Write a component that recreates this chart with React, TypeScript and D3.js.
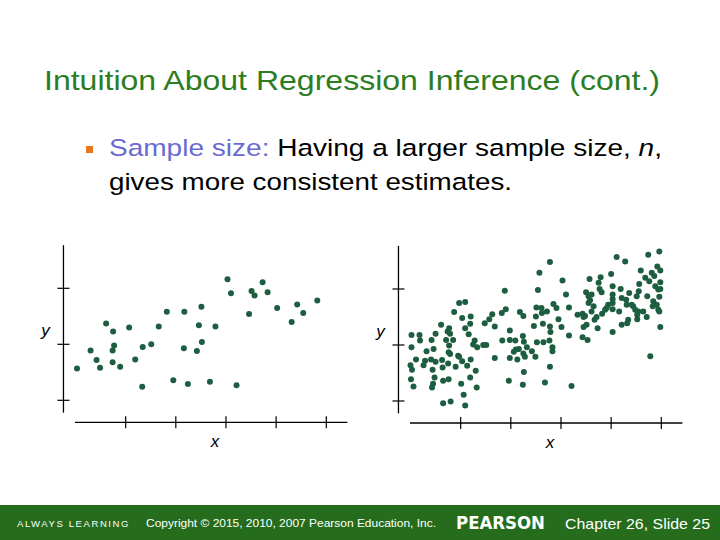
import * as d3 from "d3";

// points, in axis units (x ticks at 1..5, y ticks at 0..2)
const smallSample: [number, number][] = [
  [0.03, 0.57], [0.3, 0.89], [0.42, 0.72], [0.49, 0.58], [0.61, 1.37],
  [0.75, 1.23], [0.77, 0.98], [0.74, 0.89], [0.74, 0.68], [0.89, 0.6],
  [1.07, 1.3], [1.19, 0.73], [1.34, 0.95], [1.33, 0.24], [1.51, 1.0],
  [1.66, 1.32], [1.82, 1.58], [1.95, 0.36], [2.17, 1.58], [2.16, 0.93],
  [2.24, 0.29], [2.42, 0.88], [2.46, 1.34], [2.52, 1.04], [2.51, 1.67],
  [2.68, 0.33], [2.79, 1.32], [3.03, 2.16], [3.1, 1.91], [3.21, 0.27],
  [3.46, 1.54], [3.51, 1.95], [3.57, 1.87], [3.73, 2.11], [3.83, 1.93],
  [4.02, 1.65], [4.31, 1.4], [4.42, 1.71], [4.54, 1.56], [4.82, 1.78],
];

const largeSample: [number, number][] = [
  [0.02, 1.18], [0.18, 1.18], [0.19, 1.08], [0.02, 0.96], [0.11, 0.74],
  [0.0, 0.64], [0.03, 0.56], [0.01, 0.39], [0.06, 0.26], [0.26, 0.64],
  [0.29, 0.72], [0.32, 0.89], [0.42, 1.09], [0.41, 0.74], [0.44, 0.56],
  [0.48, 0.42], [0.45, 0.31], [0.43, 0.24], [0.46, 0.93], [0.5, 1.2],
  [0.5, 0.7], [0.61, 1.36], [0.63, 0.73], [0.64, 0.6], [0.65, 0.36],
  [0.65, -0.04], [0.71, 1.09], [0.74, 1.24], [0.77, 1.3], [0.76, 0.39],
  [0.79, 1.2], [0.75, 0.67], [0.8, -0.01], [0.77, 0.99], [0.76, 0.87],
  [0.79, 0.84], [0.85, 1.09], [0.87, 1.59], [0.9, 0.61], [0.95, 0.81],
  [0.97, 0.79], [0.97, 1.75], [1.03, 1.48], [1.03, 0.71], [1.01, 0.31],
  [1.09, 1.77], [1.09, 1.3], [1.06, 0.11], [1.09, -0.08], [1.13, 0.63],
  [1.16, 1.19], [1.19, 1.38], [1.2, 1.51], [1.2, 0.74], [1.19, 0.42],
  [1.25, 1.01], [1.28, 1.08], [1.3, 0.54], [1.32, 0.24], [1.33, 0.96],
  [1.45, 1.0], [1.48, 1.39], [1.51, 1.0], [1.57, 1.46], [1.63, 1.55],
  [1.68, 1.33], [1.68, 0.77], [1.82, 1.57], [1.83, 1.08], [1.88, 1.97],
  [1.9, 1.64], [1.96, 0.36], [1.98, 1.26], [1.98, 1.09], [1.98, 0.77],
  [2.06, 0.88], [2.09, 1.08], [2.1, 0.92], [2.13, 0.74], [2.16, 0.93],
  [2.18, 1.59], [2.24, 1.16], [2.25, 1.52], [2.26, 1.06], [2.25, 0.85],
  [2.28, 0.79], [2.26, 0.52], [2.24, 0.29], [2.32, 0.96], [2.42, 0.89],
  [2.46, 1.34], [2.49, 0.79], [2.51, 1.67], [2.54, 1.98], [2.52, 1.05],
  [2.5, 1.51], [2.57, 2.29], [2.61, 1.66], [2.62, 1.57], [2.64, 1.38],
  [2.65, 1.05], [2.68, 0.33],
  [2.78, 2.48], [2.72, 1.6], [2.85, 1.73], [2.91, 1.66], [2.78, 1.33],
  [2.79, 1.23], [2.77, 1.08], [2.83, 0.96], [2.83, 0.89], [2.78, 0.61],
  [2.95, 1.46], [3.01, 1.32], [3.03, 2.15], [3.1, 1.9], [3.16, 1.67],
  [3.16, 1.17], [3.21, 0.27], [3.33, 1.54], [3.43, 1.56], [3.45, 1.5],
  [3.48, 1.52], [3.45, 1.32], [3.51, 1.36], [3.43, 1.14], [3.53, 1.09],
  [3.5, 1.94], [3.55, 1.87], [3.58, 1.8], [3.55, 1.75], [3.61, 1.9],
  [3.57, 2.18], [3.65, 1.69], [3.61, 1.6], [3.67, 1.45], [3.71, 1.5],
  [3.73, 1.3], [3.75, 2.11], [3.77, 2.0], [3.79, 2.21], [3.81, 1.94],
  [3.82, 1.56], [3.88, 1.63], [3.91, 1.66], [3.94, 1.72], [4.0, 2.27],
  [4.03, 2.05], [4.03, 1.9], [4.03, 1.82], [4.03, 1.75], [4.03, 1.64],
  [4.03, 1.23], [4.11, 2.57], [4.16, 1.6], [4.19, 2.0], [4.21, 1.84],
  [4.21, 1.36], [4.28, 2.49], [4.3, 1.81], [4.31, 1.72], [4.32, 1.39],
  [4.34, 1.45], [4.36, 1.93], [4.41, 1.72], [4.44, 1.69], [4.48, 1.63],
  [4.52, 1.46], [4.52, 1.54], [4.54, 1.6], [4.51, 1.87], [4.55, 1.96],
  [4.56, 2.09], [4.59, 2.33], [4.64, 1.6], [4.68, 2.2], [4.71, 1.5],
  [4.72, 1.87], [4.74, 2.61], [4.76, 2.14], [4.78, 0.8], [4.81, 2.29],
  [4.83, 1.69], [4.84, 1.78], [4.86, 2.23], [4.88, 2.05], [4.91, 1.72],
  [4.92, 2.4], [4.94, 1.99], [4.94, 1.63], [4.96, 2.67], [4.96, 1.86],
  [4.98, 2.33], [4.98, 2.12], [4.98, 1.32], [4.98, 2.0], [4.96, 1.6],
];

const xTicks = [1, 2, 3, 4, 5];
const yTicks = [0, 1, 2];

const DOT = "#1e5e40";
const GREEN = "#2b7d1f";
const FONT = "'Liberation Sans', Arial, sans-serif";

type PanelProps = {
  points: [number, number][];
  left: number; // pixel position of x = 0
  axisY: number; // y pixel of the x axis
};

const Panel = ({ points, left, axisY }: PanelProps) => {
  const x = d3.scaleLinear().domain([0, 5]).range([left, left + 250.8]);
  const y = d3.scaleLinear().domain([0, 2]).range([axisY - 22, axisY - 134]);
  const yAxisX = x(-0.24);

  return (
    <g>
      {/* vertical axis */}
      <line x1={yAxisX} x2={yAxisX} y1={y(2.77)} y2={y(-0.22)} stroke="#000" strokeWidth={1.3} />
      {yTicks.map((t) => (
        <line key={t} x1={yAxisX - 6} x2={yAxisX + 6} y1={y(t)} y2={y(t)} stroke="#000" strokeWidth={1.2} />
      ))}
      {/* horizontal axis */}
      <line x1={x(-0.01)} x2={x(5.42)} y1={axisY} y2={axisY} stroke="#000" strokeWidth={1.3} />
      {xTicks.map((t) => (
        <line key={t} x1={x(t)} x2={x(t)} y1={axisY - 6} y2={axisY + 6} stroke="#000" strokeWidth={1.2} />
      ))}
      <text x={yAxisX - 18} y={y(1) - 8} fontFamily={FONT} fontStyle="italic" fontSize={17} textAnchor="middle">
        y
      </text>
      <text x={x(2.78)} y={axisY + 25} fontFamily={FONT} fontStyle="italic" fontSize={17} textAnchor="middle">
        x
      </text>
      {points.map((d, i) => (
        <circle key={i} cx={x(d[0])} cy={y(d[1])} r={3} fill={DOT} />
      ))}
    </g>
  );
};

export default function App() {
  return (
    <div style={{ position: "absolute", left: 0, top: 0 }}>
      <svg width={720} height={540} style={{ display: "block", background: "#fff" }}>
        <text x={44} y={90} fontFamily={FONT} fontSize={28} fill={GREEN} textLength={616} lengthAdjust="spacingAndGlyphs">
          Intuition About Regression Inference (cont.)
        </text>

        <rect x={86} y={146} width={7} height={7} fill="#e8761c" />
        <text x={109} y={156} fontFamily={FONT} fontSize={24.5} fill="#000" textLength={553} lengthAdjust="spacingAndGlyphs">
          <tspan fill="#6a6ad2">Sample size:</tspan>
          <tspan> Having a larger sample size, </tspan>
          <tspan fontStyle="italic">n</tspan>
          <tspan>,</tspan>
        </text>
        <text x={109} y={190} fontFamily={FONT} fontSize={24.5} fill="#000" textLength={403} lengthAdjust="spacingAndGlyphs">
          gives more consistent estimates.
        </text>

        <Panel points={smallSample} left={75.5} axisY={422.3} />
        <Panel points={largeSample} left={410.5} axisY={423} />

        <rect x={0} y={505} width={720} height={35} fill="#256d1c" />
        <text x={17} y={527} fontFamily={FONT} fontSize={9.5} fill="#fff" letterSpacing={1.6}>
          ALWAYS LEARNING
        </text>
        <text x={146} y={527} fontFamily={FONT} fontSize={11.5} fill="#fff" textLength={290} lengthAdjust="spacingAndGlyphs">
          Copyright © 2015, 2010, 2007 Pearson Education, Inc.
        </text>
        <text x={456} y={529} fontFamily="'DejaVu Sans', sans-serif" fontWeight="bold" fontSize={17} fill="#fff" textLength={89} lengthAdjust="spacingAndGlyphs">
          PEARSON
        </text>
        <text x={565} y={529} fontFamily={FONT} fontSize={15} fill="#fff" textLength={145} lengthAdjust="spacingAndGlyphs">
          Chapter 26, Slide 25
        </text>
      </svg>
    </div>
  );
}
